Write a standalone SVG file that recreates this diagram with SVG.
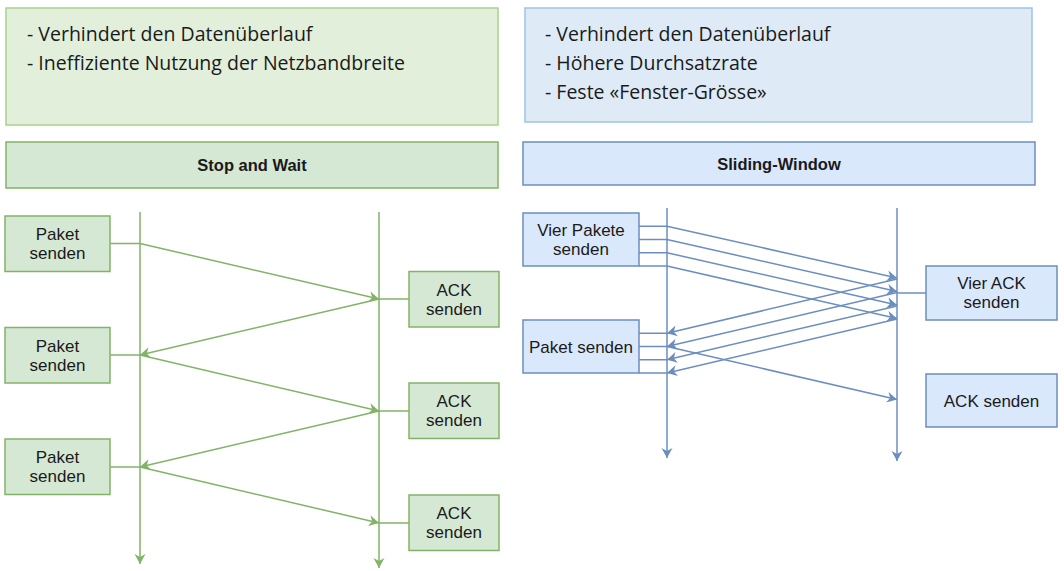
<svg xmlns="http://www.w3.org/2000/svg" width="1064" height="571" viewBox="0 0 1064 571">
<style>
.note{font-family:"Open Sans","Liberation Sans",sans-serif;font-size:19.5px;fill:#1a1a1a}
.lbl{font-family:"Liberation Sans",Arial,sans-serif;font-size:17px;fill:#1a1a1a;text-anchor:middle}
.hdr{font-family:"Liberation Sans",Arial,sans-serif;font-size:16.5px;font-weight:bold;fill:#1a1a1a;text-anchor:middle}
.gn{fill:#d5e8d4;stroke:#82b366;stroke-width:1.5}
.gnl{fill:#e2efda;stroke:#a9d18e;stroke-width:1.5}
.bl{fill:#dae8fc;stroke:#6c8ebf;stroke-width:1.5}
.bll{fill:#deebf7;stroke:#9dc3e6;stroke-width:1.5}
.g{stroke:#82b366;stroke-width:1.5;fill:none}
.b{stroke:#6c8ebf;stroke-width:1.5;fill:none}
.ga{stroke:#82b366;stroke-width:1.5;fill:none;marker-end:url(#ag)}
.ba{stroke:#6c8ebf;stroke-width:1.5;fill:none;marker-end:url(#ab)}
</style>
<defs>
<marker id="ag" markerUnits="userSpaceOnUse" markerWidth="12" markerHeight="12" refX="10" refY="5.5" orient="auto" overflow="visible"><path d="M0,0 L10,5.5 L0,11 L3,5.5 Z" fill="#82b366"/></marker>
<marker id="ab" markerUnits="userSpaceOnUse" markerWidth="12" markerHeight="12" refX="10" refY="5.5" orient="auto" overflow="visible"><path d="M0,0 L10,5.5 L0,11 L3,5.5 Z" fill="#6c8ebf"/></marker>
</defs>
<rect width="1064" height="571" fill="#ffffff"/>

<g id="note-left"><rect class="gnl" x="6" y="8" width="492" height="117"/>
<text class="note" x="27" y="41">- Verhindert den Datenüberlauf</text>
<text class="note" x="27" y="70">- Ineffiziente Nutzung der Netzbandbreite</text></g>
<g id="header-left"><rect class="gn" x="6" y="142" width="492" height="46"/><text class="hdr" x="252" y="171">Stop and Wait</text></g>

<g id="note-right"><rect class="bll" x="525" y="8" width="507" height="114"/>
<text class="note" x="545" y="41">- Verhindert den Datenüberlauf</text>
<text class="note" x="545" y="70">- Höhere Durchsatzrate</text>
<text class="note" x="545" y="99">- Feste «Fenster-Grösse»</text></g>
<g id="header-right"><rect class="bl" x="523" y="142" width="512" height="43"/><text class="hdr" x="779" y="169.5">Sliding-Window</text></g>

<g id="paket1"><rect class="gn" x="5" y="216" width="105" height="55.5"/><text class="lbl" x="57.5" y="240">Paket</text><text class="lbl" x="57.5" y="259">senden</text></g>
<g id="paket2"><rect class="gn" x="5" y="327.5" width="105" height="55.5"/><text class="lbl" x="57.5" y="351.5">Paket</text><text class="lbl" x="57.5" y="370.5">senden</text></g>
<g id="paket3"><rect class="gn" x="5" y="439" width="105" height="55.5"/><text class="lbl" x="57.5" y="463">Paket</text><text class="lbl" x="57.5" y="482">senden</text></g>
<g id="ack1"><rect class="gn" x="409" y="271.5" width="90" height="55.5"/><text class="lbl" x="454" y="295.5">ACK</text><text class="lbl" x="454" y="314.5">senden</text></g>
<g id="ack2"><rect class="gn" x="409" y="383" width="90" height="55.5"/><text class="lbl" x="454" y="407">ACK</text><text class="lbl" x="454" y="426">senden</text></g>
<g id="ack3"><rect class="gn" x="409" y="495" width="90" height="55.5"/><text class="lbl" x="454" y="519">ACK</text><text class="lbl" x="454" y="538">senden</text></g>

<g id="vier-pakete"><rect class="bl" x="523" y="213" width="116" height="53"/><text class="lbl" x="581" y="236">Vier Pakete</text><text class="lbl" x="581" y="255">senden</text></g>
<g id="paket-senden"><rect class="bl" x="523" y="320" width="116" height="53"/><text class="lbl" x="581" y="352.5">Paket senden</text></g>
<g id="vier-ack"><rect class="bl" x="926" y="266" width="131" height="54"/><text class="lbl" x="991.5" y="289">Vier ACK</text><text class="lbl" x="991.5" y="308">senden</text></g>
<g id="ack-senden"><rect class="bl" x="926" y="374" width="131" height="53"/><text class="lbl" x="991.5" y="406.5">ACK senden</text></g>

<g id="connectors">
<line class="ga" x1="140" y1="212" x2="140" y2="564"/>
<line class="ga" x1="379" y1="212" x2="379" y2="568"/>
<line class="g" x1="110" y1="243.5" x2="140" y2="243.5"/>
<line class="g" x1="110" y1="355" x2="140" y2="355"/>
<line class="g" x1="110" y1="467" x2="140" y2="467"/>
<line class="g" x1="409" y1="299" x2="379" y2="299"/>
<line class="g" x1="409" y1="411" x2="379" y2="411"/>
<line class="g" x1="409" y1="523" x2="379" y2="523"/>
<line class="ga" x1="140" y1="243.5" x2="379" y2="299"/>
<line class="ga" x1="379" y1="299" x2="140" y2="355"/>
<line class="ga" x1="140" y1="355" x2="379" y2="411"/>
<line class="ga" x1="379" y1="411" x2="140" y2="467"/>
<line class="ga" x1="140" y1="467" x2="379" y2="523"/>

<line class="ba" x1="667" y1="208" x2="667" y2="458"/>
<line class="ba" x1="897" y1="208" x2="897" y2="461"/>
<line class="b" x1="639" y1="226.25" x2="667" y2="226.25"/>
<line class="b" x1="639" y1="239.5" x2="667" y2="239.5"/>
<line class="b" x1="639" y1="252.75" x2="667" y2="252.75"/>
<line class="b" x1="639" y1="266" x2="667" y2="266"/>
<line class="b" x1="639" y1="333.25" x2="667" y2="333.25"/>
<line class="b" x1="639" y1="346.5" x2="667" y2="346.5"/>
<line class="b" x1="639" y1="359.75" x2="667" y2="359.75"/>
<line class="b" x1="639" y1="373" x2="667" y2="373"/>
<line class="b" x1="926" y1="293" x2="897" y2="293"/>
<line class="ba" x1="667" y1="226.25" x2="897" y2="278"/>
<line class="ba" x1="667" y1="239.5" x2="897" y2="291.5"/>
<line class="ba" x1="667" y1="252.75" x2="897" y2="305"/>
<line class="ba" x1="667" y1="266" x2="897" y2="318.5"/>
<line class="ba" x1="897" y1="279" x2="667" y2="333.25"/>
<line class="ba" x1="897" y1="292.5" x2="667" y2="346.5"/>
<line class="ba" x1="897" y1="306" x2="667" y2="359.75"/>
<line class="ba" x1="897" y1="319" x2="667" y2="373"/>
<line class="ba" x1="667" y1="346.5" x2="897" y2="399.5"/>
</g>
</svg>
